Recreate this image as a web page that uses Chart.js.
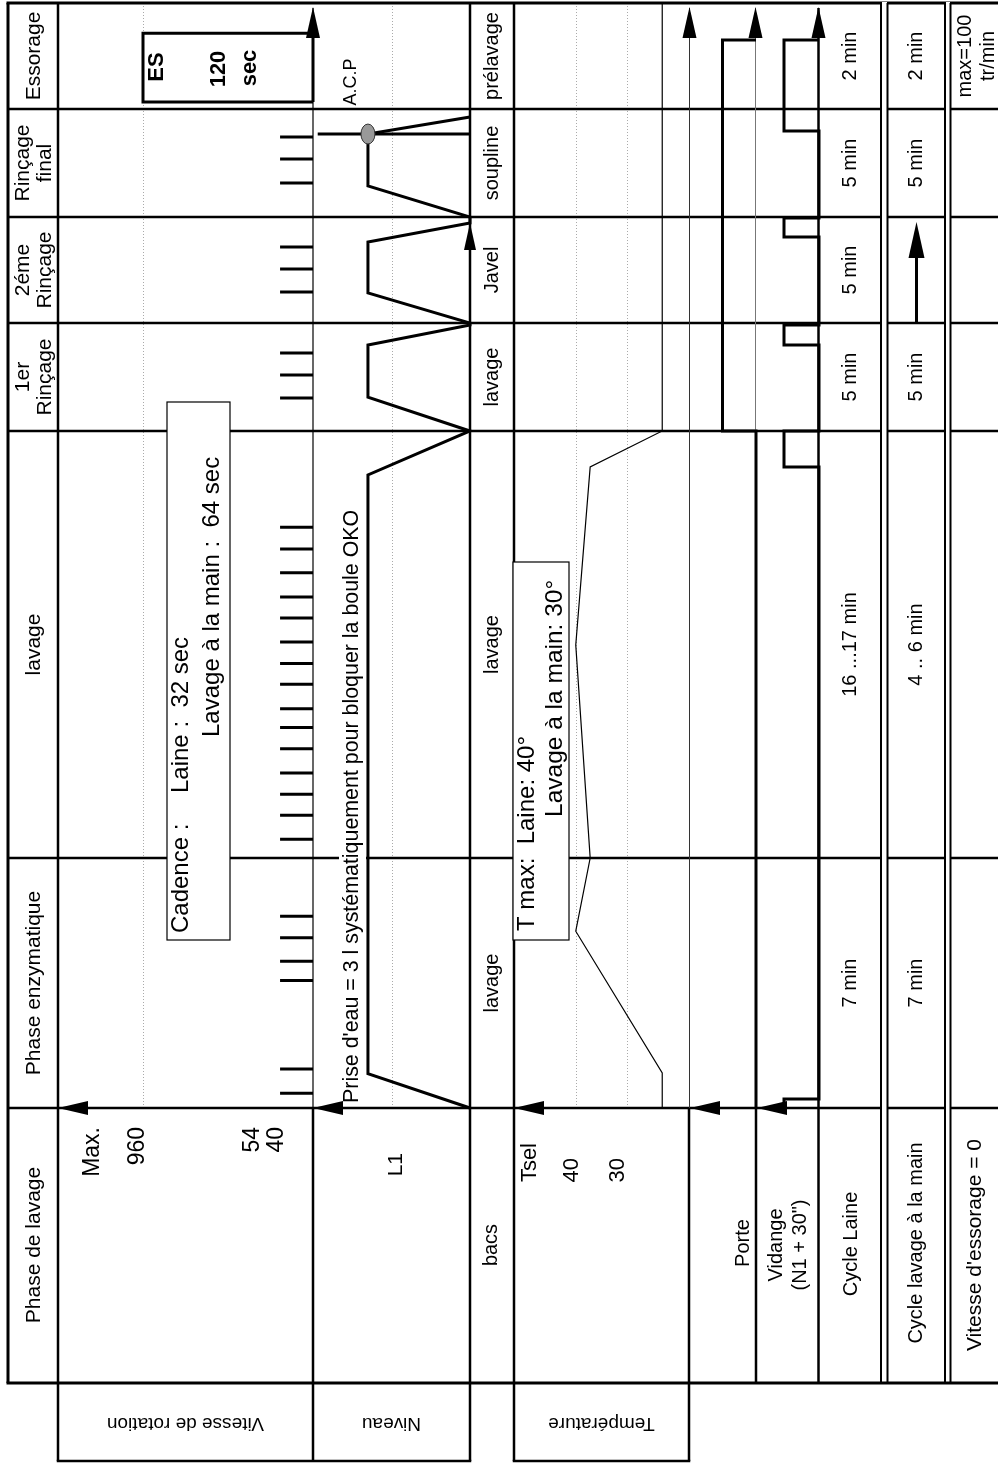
<!DOCTYPE html>
<html>
<head>
<meta charset="utf-8">
<script src="https://cdn.jsdelivr.net/npm/chart.js@4/dist/chart.umd.min.js"></script>
<style>
html, body { margin: 0; padding: 0; background: #fff; }
canvas { display: block; }
</style>
</head>
<body>
<canvas id="cycle-chart" width="998" height="1463"></canvas>
<script>
// ---- data (time in minutes from the start of the cycle) ----
const phaseNames = ['Phase enzymatique', 'lavage', '1er\nRinçage', '2éme\nRinçage', 'Rinçage\nfinal', 'Essorage'];
const phaseBounds = [0, 7, 23.5, 28.5, 33.5, 38.5, 40.5];
const bacsLabels = ['lavage', 'lavage', 'lavage', 'Javel', 'soupline', 'prélavage'];
const cycleLaine = ['7 min', '16 ...17 min', '5 min', '5 min', '5 min', '2 min'];
const cycleMain = ['7 min', '4 .. 6 min', '5 min', '', '5 min', '2 min'];
const essorageSpeed = ['', '', '', '', '', 'max=100\ntr/min'];

// rotation pulses (speed units, tr/min)
const rotationTimes = [0.41, 1.09, 3.57, 4.11, 4.77, 5.37,
    7.72, 8.65, 9.46, 10.28, 11.22, 12.04, 12.77, 13.71, 14.52, 15.35, 16.27, 17.09, 18.02, 18.94, 19.78,
    25.03, 26.09, 27.11, 29.96, 31.05, 32.08, 35.07, 36.19, 37.20];
const rotationPulse = 186;
const spinTimes = [38.63, 38.63, 39.93, 39.93, 38.63];
const spinSpeed = [0, 960, 960, 0, 0];
const speedTickLabels = ['Max.', '960', '54', '40'];
const speedTickPos = [1242, 992, 339, 203];

// water level (% of the column)
const levelTimes = [0, 0.96, 21.80, 23.5, 25.07, 27.48, 28.41, 28.5, 29.92, 32.32, 33.22, 33.5, 34.94, 37.34, 38.13];
const levelValues = [0, 65, 65, 0, 65, 65, 0, 0, 65, 65, 0, 0, 65, 65, 0];
const acpTime = 37.34;
const acpLevel = 97;

// temperature (°C)
const tempTimes = [0, 0.98, 4.95, 7.0, 15.23, 22.11, 23.5, 40.5];
const tempValues = [23.2, 23.2, 40, 37.2, 40, 37.2, 23.2, 23.2];
const tempTickLabels = ['Tsel', '40', '30'];
const tempTickPos = [49, 40.7, 31.9];

// door and drain (0 = off, 1 = on)
const porteTimes = [0, 23.5, 23.5, 39.8, 39.8];
const porteValues = [0, 0, 1, 1, 0];
const vidangeTimes = [0, 0.25, 0.25, 22.11, 22.11, 23.5, 23.5, 27.48, 27.48, 28.41, 28.41,
    32.56, 32.56, 33.45, 33.45, 37.48, 37.48, 39.8, 39.8];
const vidangeValues = [1, 1, 0, 0, 1, 1, 0, 0, 1, 1, 0, 0, 1, 1, 0, 0, 1, 1, 0];

// ---- layout ----
const rowEdges = [1108, 858, 431, 323, 217, 109, 3];
const bands = { xs: [58, 313], xn: [313, 470], xt: [514, 689], xp: [689, 756], xv: [756, 819] };
const labelTop = 1108, tableBottom = 1383, boxBottom = 1461;

// time axis: each phase gets its own row height
class PhaseScale extends Chart.LinearScale {
    getPixelForValue(value) {
        let i = 0;
        while (i < phaseBounds.length - 2 && value > phaseBounds[i + 1]) i++;
        const f = (value - phaseBounds[i]) / (phaseBounds[i + 1] - phaseBounds[i]);
        return rowEdges[i] + f * (rowEdges[i + 1] - rowEdges[i]);
    }
}
PhaseScale.id = 'phase';
PhaseScale.defaults = Chart.LinearScale.defaults;
Chart.register(PhaseScale);

function pts(times, values) {
    return times.map((t, i) => ({ x: values[i], y: t }));
}

const rotationData = [];
rotationTimes.forEach(t => {
    rotationData.push({ x: 0, y: t }, { x: rotationPulse, y: t }, { x: null, y: null });
});

function sig(data, axis, width) {
    return { data, xAxisID: axis, yAxisID: 'y', showLine: true, borderColor: '#000', borderWidth: width,
        pointRadius: 0, tension: 0, borderJoinStyle: 'miter', spanGaps: false, clip: false };
}

function vtext(ctx, txt, x, y, size, opts = {}) {
    ctx.save();
    ctx.translate(x, y);
    ctx.rotate(opts.angle !== undefined ? opts.angle : -Math.PI / 2);
    ctx.font = (opts.bold ? 'bold ' : '') + size + 'px "Liberation Sans", Arial, sans-serif';
    ctx.textAlign = opts.align || 'center';
    ctx.textBaseline = 'middle';
    ctx.fillStyle = '#000';
    const lines = txt.split('\n');
    const lh = opts.lh || size * 1.08;
    lines.forEach((l, i) => ctx.fillText(l, 0, (i - (lines.length - 1) / 2) * lh));
    ctx.restore();
}

function line(ctx, x0, y0, x1, y1, w, color) {
    ctx.beginPath();
    ctx.moveTo(x0, y0);
    ctx.lineTo(x1, y1);
    ctx.lineWidth = w;
    ctx.strokeStyle = color || '#000';
    ctx.stroke();
}

function arrowUp(ctx, x, tipY, len, half) {
    ctx.beginPath();
    ctx.moveTo(x, tipY);
    ctx.lineTo(x - half, tipY + len);
    ctx.lineTo(x + half, tipY + len);
    ctx.closePath();
    ctx.fillStyle = '#000';
    ctx.fill();
}

function arrowLeft(ctx, tipX, y, len, half) {
    ctx.beginPath();
    ctx.moveTo(tipX, y);
    ctx.lineTo(tipX + len, y - half);
    ctx.lineTo(tipX + len, y + half);
    ctx.closePath();
    ctx.fillStyle = '#000';
    ctx.fill();
}

function whiteBox(ctx, x, y, w, h, border) {
    ctx.fillStyle = '#fff';
    ctx.fillRect(x, y, w, h);
    if (border) {
        ctx.lineWidth = 1.2;
        ctx.strokeStyle = '#000';
        ctx.strokeRect(x, y, w, h);
    }
}

// place every value axis in its own column of the table
const bandPlugin = {
    id: 'bands',
    afterLayout(chart) {
        Object.entries(bands).forEach(([id, b]) => {
            const s = chart.scales[id];
            s.left = b[0];
            s.right = b[1];
            s.configure();
        });
    }
};

const tablePlugin = {
    id: 'table',
    beforeDraw(chart) {
        const ctx = chart.ctx;
        ctx.save();
        ctx.fillStyle = '#fff';
        ctx.fillRect(0, 0, chart.width, chart.height);
        ctx.restore();
    },
    beforeDatasetsDraw(chart) {
        const ctx = chart.ctx;
        const sc = chart.scales;
        const y = sc.y;
        ctx.save();
        ctx.lineCap = 'butt';

        // dotted guide lines
        ctx.setLineDash([1, 2]);
        [[sc.xs, 960], [sc.xn, 50], [sc.xt, 40], [sc.xt, 30]].forEach(([s, v]) => {
            const x = Math.round(s.getPixelForValue(v)) + 0.5;
            line(ctx, x, 3, x, labelTop, 1, '#aaa');
        });
        ctx.setLineDash([]);

        // horizontal rules
        line(ctx, 6.5, 3, 1000, 3, 3);
        phaseBounds.slice(1, -1).forEach(t => {
            const py = y.getPixelForValue(t);
            line(ctx, 8, py, 1000, py, 2.5);
        });
        line(ctx, 8, labelTop, 1000, labelTop, 2.5);
        line(ctx, 56.75, boxBottom, 471.25, boxBottom, 2.5);
        line(ctx, 512.75, boxBottom, 690.25, boxBottom, 2.5);

        // vertical rules
        line(ctx, 8, 3, 8, tableBottom, 3);
        line(ctx, 58, 3, 58, boxBottom, 2.5);
        line(ctx, 313, 8, 313, labelTop, 1.2);
        line(ctx, 313, labelTop, 313, boxBottom, 2.5);
        line(ctx, 470, 3, 470, boxBottom, 2.5);
        line(ctx, 514, 3, 514, boxBottom, 2.5);
        line(ctx, 689.5, 8, 689.5, labelTop, 1, '#333');
        line(ctx, 689, labelTop, 689, boxBottom, 2.5);
        line(ctx, 755.5, 8, 755.5, labelTop, 1, '#777');
        line(ctx, 756, labelTop, 756, tableBottom, 2.5);
        line(ctx, 818.5, 8, 818.5, tableBottom, 2.5);
        // double rules
        ctx.fillStyle = '#fff';
        ctx.fillRect(882, 2, 5, tableBottom - 3);
        ctx.fillRect(946, 2, 4, tableBottom - 3);
        line(ctx, 6.5, tableBottom, 1000, tableBottom, 3);
        [881, 887.5, 945, 950.5].forEach(x => line(ctx, x, 3, x, tableBottom, 2));

        // note boxes
        whiteBox(ctx, 167, 402, 63, 538, true);
        vtext(ctx, 'Cadence :', 181, 933, 24, { align: 'left' });
        vtext(ctx, 'Laine :  32 sec', 181, 793, 24, { align: 'left' });
        vtext(ctx, 'Lavage à la main :  64 sec', 212, 737, 24, { align: 'left' });

        whiteBox(ctx, 513, 562, 56, 378, true);
        vtext(ctx, 'T max:  Laine: 40°', 527, 931, 24, { align: 'left' });
        vtext(ctx, 'Lavage à la main: 30°', 555, 817, 24.5, { align: 'left' });

        whiteBox(ctx, 339, 512, 27, 592, false);
        vtext(ctx, "Prise d'eau = 3 l systématiquement pour bloquer la boule OKO", 352, 1103, 21.4, { align: 'left' });

        // phase rows
        phaseNames.forEach((name, i) => {
            const cy = y.getPixelForValue((phaseBounds[i] + phaseBounds[i + 1]) / 2);
            vtext(ctx, name, 34, cy, 21, { lh: 22 });
            vtext(ctx, bacsLabels[i], 492, cy, 20);
            vtext(ctx, cycleLaine[i], 850, cy, 20);
            if (cycleMain[i]) vtext(ctx, cycleMain[i], 916, cy, 20);
            if (essorageSpeed[i]) vtext(ctx, essorageSpeed[i], 977, cy, 20, { lh: 23 });
        });

        // header row
        vtext(ctx, 'Phase de lavage', 34, 1245, 21);
        speedTickLabels.forEach((l, i) => vtext(ctx, l, sc.xs.getPixelForValue(speedTickPos[i]), 1127, 23, { align: 'right' }));
        vtext(ctx, 'L1', 396, 1153, 21, { align: 'right' });
        vtext(ctx, 'bacs', 491, 1245, 20);
        tempTickLabels.forEach((l, i) => vtext(ctx, l, sc.xt.getPixelForValue(tempTickPos[i]), i === 0 ? 1143 : 1158, 22, { align: 'right' }));
        vtext(ctx, 'Porte', 743, 1243, 20);
        vtext(ctx, 'Vidange\n(N1 + 30")', 788, 1245, 20, { lh: 24 });
        vtext(ctx, 'Cycle Laine', 851, 1244, 20);
        vtext(ctx, 'Cycle lavage à la main', 916, 1243, 20);
        vtext(ctx, "Vitesse d'essorage = 0", 975, 1245, 21);

        // upside-down labels under the table
        vtext(ctx, 'Vitesse de rotation', 185.5, 1423, 19, { angle: Math.PI });
        vtext(ctx, 'Niveau', 391.5, 1423, 19, { angle: Math.PI });
        vtext(ctx, 'Température', 601.5, 1423, 19, { angle: Math.PI });

        // spin annotation
        vtext(ctx, 'ES', 157, 67, 22, { bold: true });
        vtext(ctx, '120', 219, 69, 22, { bold: true });
        vtext(ctx, 'sec', 250, 68, 22, { bold: true });
        vtext(ctx, 'A.C.P', 351, 82, 18);
        ctx.restore();
    },
    afterDatasetsDraw(chart) {
        const ctx = chart.ctx;
        const sc = chart.scales;
        const y = sc.y;
        ctx.save();

        // axis arrows
        [313, 689.5, 755.5, 818.5].forEach(x => arrowUp(ctx, x, 7, 31, 7));
        [58, 313, 514, 690, 757].forEach(x => arrowLeft(ctx, x, labelTop, 30, 7));
        arrowUp(ctx, 470, y.getPixelForValue(33.22), 27, 6);

        // hand-wash cycle arrow in the 2nd rinse
        const y0 = y.getPixelForValue(28.5), tip = y.getPixelForValue(33.26);
        line(ctx, 916.5, y0, 916.5, tip + 34, 3);
        arrowUp(ctx, 916.5, tip, 36, 8);

        // ball valve marker (OKO)
        ctx.beginPath();
        ctx.ellipse(sc.xn.getPixelForValue(levelValues[13]), y.getPixelForValue(acpTime), 7, 10, 0, 0, Math.PI * 2);
        ctx.fillStyle = '#999';
        ctx.fill();
        ctx.lineWidth = 1;
        ctx.strokeStyle = '#333';
        ctx.stroke();
        ctx.restore();
    }
};

new Chart(document.getElementById('cycle-chart'), {
    type: 'scatter',
    data: {
        datasets: [
            sig(rotationData, 'xs', 3),
            sig(pts(spinTimes, spinSpeed), 'xs', 3),
            sig(pts(levelTimes, levelValues), 'xn', 3),
            sig([{ x: acpLevel, y: acpTime }, { x: 0, y: acpTime }], 'xn', 3),
            sig(pts(tempTimes, tempValues), 'xt', 1.2),
            sig(pts(porteTimes, porteValues), 'xp', 3),
            sig(pts(vidangeTimes, vidangeValues), 'xv', 3)
        ]
    },
    options: {
        responsive: false,
        animation: false,
        events: [],
        layout: { padding: 0 },
        plugins: { legend: { display: false }, tooltip: { enabled: false } },
        scales: {
            y: { type: 'phase', min: 0, max: 40.5, display: false },
            xs: { type: 'linear', min: 0, max: 1440, reverse: true, display: false },
            xn: { type: 'linear', min: 0, max: 100, reverse: true, display: false },
            xt: { type: 'linear', min: 18, max: 52, reverse: true, display: false },
            xp: { type: 'linear', min: 0, max: 2, reverse: true, display: false },
            xv: { type: 'linear', min: 0, max: 1.8, reverse: true, display: false }
        }
    },
    plugins: [bandPlugin, tablePlugin]
});
</script>
</body>
</html>
